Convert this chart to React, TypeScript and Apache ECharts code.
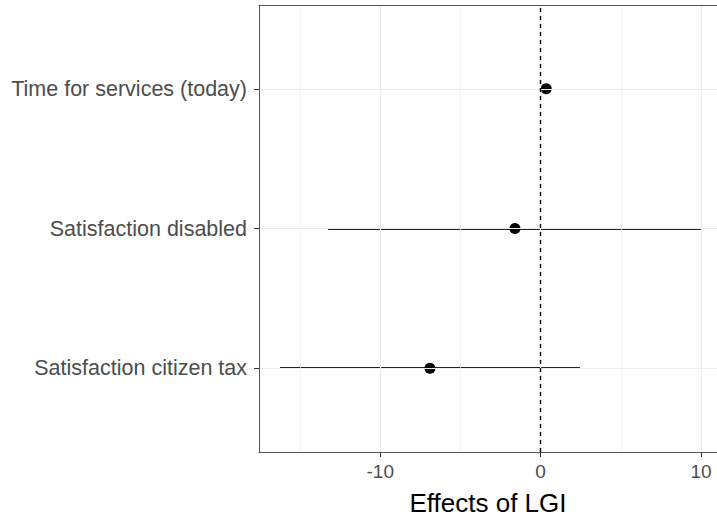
import React, { useEffect, useRef } from "react";
import * as echarts from "echarts";

const categories = ["Satisfaction citizen tax", "Satisfaction disabled", "Time for services (today)"];
const estimates = [-6.9, -1.6, 0.35];
const lower = [-16.25, -13.25, 0.25];
const upper = [2.45, 10.0, 0.45];
const xTicks = [-10, 0, 10];
const xMinorTicks = [-15, -5, 5];
const yTicks = [1, 2, 3];

export default function App() {
  const ref = useRef<HTMLDivElement>(null);
  useEffect(() => {
    if (!ref.current) return;
    const chart = echarts.init(ref.current, null, { renderer: "svg" });
    const font = "Liberation Sans, Arial, Helvetica, sans-serif";
    const border = { show: true, onZero: false, lineStyle: { color: "#555555", width: 1 } };
    const gridLines: any[] = [];
    xTicks.forEach((v) => gridLines.push({ xAxis: v, lineStyle: { color: "#ebebeb", width: 1.2, type: "solid" } }));
    xMinorTicks.forEach((v) => gridLines.push({ xAxis: v, lineStyle: { color: "#f0f0f0", width: 0.7, type: "solid" } }));
    yTicks.forEach((v) => gridLines.push({ yAxis: v, lineStyle: { color: "#ebebeb", width: 1.2, type: "solid" } }));

    chart.setOption({
      animation: false,
      backgroundColor: "#ffffff",
      grid: {
        left: 259,
        top: 5,
        right: 0,
        height: 447,
        show: false,
      },
      xAxis: [
        {
          type: "value",
          min: -17.56,
          max: 11.0,
          name: "Effects of LGI",
          nameLocation: "middle",
          nameGap: 38,
          nameTextStyle: { color: "#000000", fontSize: 26, fontFamily: font },
          axisLine: border,
          axisTick: { show: true, customValues: xTicks, length: 5, lineStyle: { color: "#333333" } },
          axisLabel: {
            customValues: xTicks,
            color: "#4d4d4d",
            fontSize: 19,
            fontFamily: font,
            margin: 10,
            formatter: (v: number) => String(v),
          },
          splitLine: { show: false },
          z: 10,
        },
        {
          type: "value",
          position: "top",
          min: -17.56,
          max: 11.0,
          axisLine: border,
          axisTick: { show: false },
          axisLabel: { show: false },
          splitLine: { show: false },
          z: 10,
        },
      ],
      yAxis: {
        type: "value",
        position: "left",
        min: 0.4,
        max: 3.6,
        axisLine: border,
        axisTick: { show: true, customValues: yTicks, length: 5, lineStyle: { color: "#333333" } },
        axisLabel: {
          customValues: yTicks,
          color: "#4d4d4d",
          fontSize: 21.5,
          fontFamily: font,
          margin: 12,
          formatter: (v: number) => categories[Math.round(v) - 1] ?? "",
        },
        splitLine: { show: false },
        z: 10,
      },
      series: [
        {
          type: "scatter",
          name: "grid",
          data: [[0, 2]],
          symbolSize: 0,
          silent: true,
          z: 1,
          markLine: {
            silent: true,
            symbol: "none",
            label: { show: false },
            data: gridLines,
          },
        },
        {
          type: "custom",
          name: "ci",
          z: 2,
          silent: true,
          data: categories.map((_, i) => [lower[i], upper[i], i + 1]),
          renderItem: (params: any, api: any) => {
            const p1 = api.coord([api.value(0), api.value(2)]);
            const p2 = api.coord([api.value(1), api.value(2)]);
            const y = Math.round(p1[1]);
            return {
              type: "line",
              shape: { x1: p1[0], y1: y, x2: p2[0], y2: y },
              style: { stroke: "#222222", lineWidth: 2, opacity: 1 },
            };
          },
        },
        {
          type: "scatter",
          name: "zero",
          data: [[0, 2]],
          symbolSize: 0,
          silent: true,
          z: 3,
          markLine: {
            silent: true,
            symbol: "none",
            label: { show: false },
            data: [{ xAxis: 0, lineStyle: { color: "#000000", width: 1.4, type: [4, 4] } }],
          },
        },
        {
          type: "scatter",
          name: "estimate",
          z: 4,
          data: categories.map((_, i) => [estimates[i], i + 1]),
          symbol: "circle",
          symbolSize: 11,
          itemStyle: { color: "#000000", opacity: 1 },
        },
      ],
    });
    return () => chart.dispose();
  }, []);
  return (
    <div
      ref={ref}
      style={{ position: "fixed", left: 0, top: 0, width: 717, height: 523 }}
    />
  );
}
